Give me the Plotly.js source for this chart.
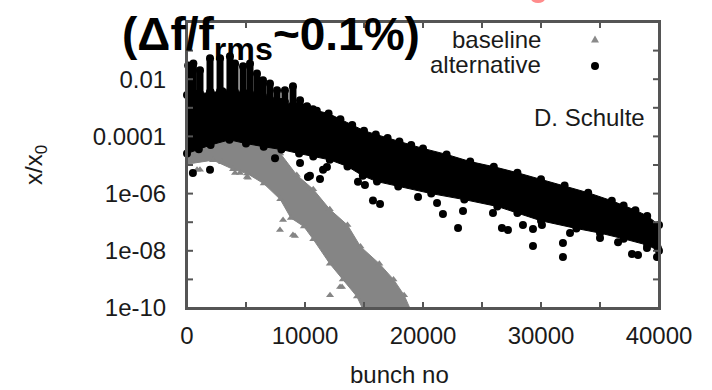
<!DOCTYPE html>
<html>
<head>
<meta charset="utf-8">
<script src="https://cdn.plot.ly/plotly-3.0.1.min.js"></script>
<style>html,body{margin:0;padding:0;background:#fff;}#chart{width:712px;height:390px;}</style>
</head>
<body>
<div id="chart"></div>
<script>
// ---- data (y stored as log10 of x/x0) ----
// baseline (grey triangles): dense band edges + isolated points
const baseLowX   = [0, 2200, 3900, 5100, 6500, 7900, 8800, 9900, 10700, 12100, 13200, 14400, 15200];
const baseLowLog = [-4.97, -4.83, -5.15, -5.3, -5.65, -6.2, -6.85, -7.15, -7.6, -8.45, -9.0, -9.6, -10.3];
const baseUpX    = [0, 2000, 4000, 6000, 7000, 7900, 9300, 10700, 12100, 13600, 14700, 16300, 17500, 18400, 19200];
const baseUpLog  = [-3.9, -3.8, -3.8, -3.9, -4.1, -4.6, -5.35, -5.85, -6.55, -7.1, -7.85, -8.45, -9.0, -9.55, -10.3];
const baseOutX   = [850, 1100, 2970, 4070, 4490, 5080, 5170, 7880, 8140, 8980, 9150, 12120, 12970, 13140];
const baseOutLog = [-5.17, -5.17, -4.9, -5.28, -5.28, -5.42, -5.45, -7.27, -6.92, -7.45, -7.48, -9.55, -9.27, -9.27];

// alternative (black circles): dense band edges, columns at start, isolated points
const altUpX    = [0, 1000, 2000, 3000, 4000, 5000, 6000, 7000, 8000, 9000, 10000, 11000, 12000, 13000, 14000, 15000, 16000, 17000, 18000, 19000, 20000, 22000, 24000, 26000, 28000, 30000, 32000, 34000, 36000, 37000, 38000, 39000, 40000];
const altUpLog  = [-2.55, -2.5, -2.45, -2.42, -2.45, -2.5, -2.6, -2.7, -2.8, -2.9, -3.0, -3.1, -3.2, -3.4, -3.6, -3.8, -3.93, -4.06, -4.18, -4.3, -4.42, -4.63, -4.88, -5.06, -5.27, -5.5, -5.72, -5.97, -6.25, -6.42, -6.58, -6.78, -7.1];
const altLowX   = [0, 1000, 2000, 3600, 5000, 6500, 8000, 9500, 10700, 12100, 13600, 14900, 16100, 17900, 20700, 23500, 26300, 28000, 30000, 33000, 35000, 37000, 39000, 40000];
const altLowLog = [-4.6, -4.45, -4.3, -4.12, -4.25, -4.36, -4.46, -4.6, -4.7, -4.82, -5.05, -5.38, -5.58, -5.75, -6.0, -6.21, -6.45, -6.68, -6.95, -7.22, -7.38, -7.58, -7.8, -8.0];
const altColX    = [100, 540, 1100, 1950, 2800, 3640, 4070, 4750, 5340, 5930, 6440, 7030, 7630, 8300, 8980, 9580, 10170, 10680];
const altColTop  = [-1.52, -1.45, -1.69, -1.27, -1.27, -1.2, -1.45, -1.55, -1.45, -1.8, -2.04, -2.15, -2.39, -2.39, -2.25, -2.74, -2.95, -3.09];
const altColBase = [-2.55, -2.5, -2.5, -2.45, -2.42, -2.43, -2.45, -2.48, -2.5, -2.55, -2.6, -2.7, -2.75, -2.8, -2.9, -2.95, -3.0, -3.05];
const altOutX   = [500, 1950, 7460, 9580, 10250, 10420, 11270, 11530, 11860, 14490, 15080, 15760, 16360, 19580, 21190, 21690, 22970, 23390, 25930, 26690, 27200, 28470, 29320, 29320, 30080, 31860, 31860, 32460, 35000, 36530, 37710, 38220, 38980, 39830, 39900];
const altOutLog = [-5.28, -5.17, -4.76, -4.93, -5.42, -5.38, -5.49, -5.17, -5.07, -5.59, -5.7, -6.24, -6.36, -6.12, -6.33, -6.71, -7.2, -6.61, -6.68, -7.2, -7.27, -7.1, -7.24, -7.83, -7.1, -7.73, -8.22, -7.38, -7.55, -7.7, -8.11, -8.15, -7.9, -8.22, -7.9];

const seriesNames = ['baseline', 'alternative'];
const xRange = [0, 40000];
const yRangeLog = [-10, 0];
const xTickVals  = [0, 10000, 20000, 30000, 40000];
const xTickText  = ['0', '10000', '20000', '30000', '40000'];
const xMinorVals = [5000, 15000, 25000, 35000];
const yTickVals  = [1e-10, 1e-8, 1e-6, 1e-4, 1e-2];
const yTickText  = ['1e-10', '1e-08', '1e-06', '0.0001', '0.01'];
const yMinorVals = [1e-9, 1e-7, 1e-5, 1e-3, 1e-1];

// ---- build ----
const p10 = a => a.map(v => Math.pow(10, v));
const GREY = '#858585', BLACK = '#000000', AXIS = '#555555';
const FONT = 'Liberation Sans, Arial, sans-serif';

const L = 187, R = 659, T = 22, B = 308;
const px = v => (v - L) / (R - L);
const py = v => (B - v) / (B - T);

const colX = [], colY = [];
altColX.forEach((x, i) => { colX.push(x, x, null); colY.push(Math.pow(10, altColTop[i]), Math.pow(10, altColBase[i]), null); });

// inward ticks (drawn as a line trace on the same axes)
const TICKPX = 6;
const tx = TICKPX * (xRange[1] - xRange[0]) / (R - L);
const ty = TICKPX * (yRangeLog[1] - yRangeLog[0]) / (B - T);
const yLo = Math.pow(10, yRangeLog[0]), yHi = Math.pow(10, yRangeLog[1]);
const fX = [], fY = [];
xTickVals.concat(xMinorVals).forEach(v => {
  fX.push(v, v, null, v, v, null);
  fY.push(yLo, Math.pow(10, yRangeLog[0] + ty), null, yHi, Math.pow(10, yRangeLog[1] - ty), null);
});
yTickVals.concat(yMinorVals).forEach(v => {
  fX.push(xRange[0], xRange[0] + tx, null, xRange[1], xRange[1] - tx, null);
  fY.push(v, v, null, v, v, null);
});

const triM = {symbol: 'triangle-up', size: 7, color: GREY};
const dotM = {symbol: 'circle', size: 8, color: BLACK};

const traces = [
  {x: baseLowX, y: p10(baseLowLog), mode: 'lines+markers', line: {color: GREY, width: 1}, marker: triM, showlegend: false, hoverinfo: 'skip'},
  {x: baseUpX, y: p10(baseUpLog), mode: 'lines+markers', line: {color: GREY, width: 1}, marker: triM, fill: 'tonexty', fillcolor: GREY, showlegend: false, hoverinfo: 'skip'},
  {x: baseOutX, y: p10(baseOutLog), mode: 'markers', marker: triM, name: seriesNames[0], showlegend: false},
  {x: altLowX, y: p10(altLowLog), mode: 'lines+markers', line: {color: BLACK, width: 1}, marker: dotM, showlegend: false, hoverinfo: 'skip', cliponaxis: false},
  {x: altUpX, y: p10(altUpLog), mode: 'lines+markers', line: {color: BLACK, width: 1}, marker: dotM, fill: 'tonexty', fillcolor: BLACK, showlegend: false, hoverinfo: 'skip', cliponaxis: false},
  {x: colX, y: colY, mode: 'lines+markers', line: {color: BLACK, width: 7}, marker: dotM, showlegend: false, hoverinfo: 'skip', cliponaxis: false},
  {x: altOutX, y: p10(altOutLog), mode: 'markers', marker: dotM, name: seriesNames[1], showlegend: false, cliponaxis: false},
  {x: fX, y: fY, mode: 'lines', line: {color: AXIS, width: 2}, showlegend: false, hoverinfo: 'skip'}
];

const axisCommon = {
  showline: true, linecolor: AXIS, linewidth: 2, mirror: true,
  ticks: '', showgrid: false, zeroline: false, layer: 'above traces',
  tickfont: {family: FONT, size: 24, color: '#1a1a1a'}
};

const layout = {
  width: 712, height: 390,
  margin: {l: L, r: 712 - R, t: T, b: 390 - B, pad: 0},
  paper_bgcolor: '#ffffff', plot_bgcolor: '#ffffff',
  showlegend: false,
  xaxis: Object.assign({}, axisCommon, {range: xRange, tickmode: 'array', tickvals: xTickVals, ticktext: xTickText, ticklabelstandoff: 5}),
  yaxis: Object.assign({}, axisCommon, {type: 'log', range: yRangeLog, tickmode: 'array', tickvals: yTickVals, ticktext: yTickText, ticklabelstandoff: 14}),
  annotations: [
    {xref: 'paper', yref: 'paper', x: px(120), y: py(6), xanchor: 'left', yanchor: 'top', showarrow: false,
     text: '<b>(Δf/f<sub>rms</sub>~0.1%)</b>', font: {family: FONT, size: 46, color: '#000'}},
    {xref: 'paper', yref: 'paper', x: px(543), y: py(40), xanchor: 'right', yanchor: 'middle', showarrow: false,
     text: seriesNames[0], font: {family: FONT, size: 24, color: '#1a1a1a'}},
    {xref: 'paper', yref: 'paper', x: px(543), y: py(65), xanchor: 'right', yanchor: 'middle', showarrow: false,
     text: seriesNames[1], font: {family: FONT, size: 24, color: '#1a1a1a'}},
    {xref: 'paper', yref: 'paper', x: px(647), y: py(118), xanchor: 'right', yanchor: 'middle', showarrow: false,
     text: 'D. Schulte', font: {family: FONT, size: 24, color: '#1a1a1a'}},
    {xref: 'paper', yref: 'paper', x: px(399), y: py(375), xanchor: 'center', yanchor: 'middle', showarrow: false,
     text: 'bunch no', font: {family: FONT, size: 24, color: '#1a1a1a'}},
    {xref: 'paper', yref: 'paper', x: px(35), y: py(165), xanchor: 'center', yanchor: 'middle', showarrow: false, textangle: -90,
     text: 'x/x<sub>0</sub>', font: {family: FONT, size: 24, color: '#1a1a1a'}}
  ],
  shapes: [
    {type: 'rect', xref: 'paper', yref: 'paper', x0: 0, x1: 1, y0: 0, y1: 1, layer: 'above', line: {color: AXIS, width: 2}},
    {type: 'path', xref: 'paper', yref: 'paper', path: 'M ' + px(591) + ' ' + py(42.5) + ' L ' + px(599) + ' ' + py(42.5) + ' L ' + px(595) + ' ' + py(35.5) + ' Z',
     fillcolor: '#8a8a8a', line: {width: 0}},
    {type: 'circle', xref: 'paper', yref: 'paper', x0: px(591), x1: px(599), y0: py(70), y1: py(62), fillcolor: '#000', line: {width: 0}},
    {type: 'circle', xref: 'paper', yref: 'paper', x0: px(531), x1: px(545), y0: py(3), y1: py(-6), fillcolor: '#ff8c8c', line: {width: 0}}
  ]
};

Plotly.newPlot('chart', traces, layout, {staticPlot: true, displayModeBar: false});
</script>
</body>
</html>
